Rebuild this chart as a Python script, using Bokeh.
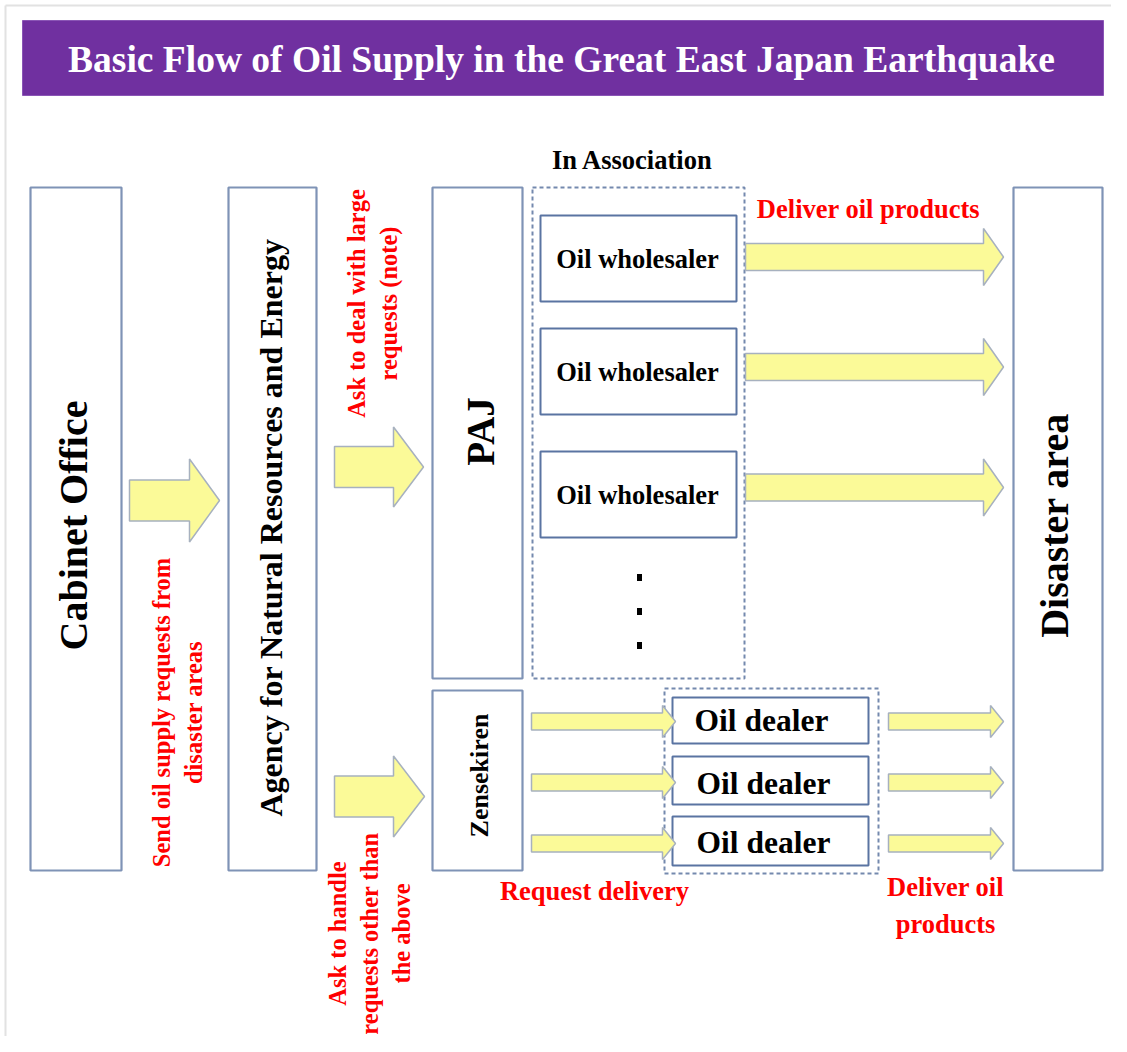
import math
from bokeh.plotting import figure
from bokeh.models import Range1d
from bokeh.core.properties import value
from bokeh.embed import file_html
from bokeh.resources import INLINE

# ---------------- content ----------------
title = "Basic Flow of Oil Supply in the Great East Japan Earthquake"
association_label = "In Association"
column_labels = ["Cabinet Office", "Agency for Natural Resources and Energy",
                 "PAJ", "Zensekiren", "Disaster area"]
wholesaler_labels = ["Oil wholesaler", "Oil wholesaler", "Oil wholesaler"]
dealer_labels = ["Oil dealer", "Oil dealer", "Oil dealer"]
vertical_flow_labels = ["Send oil supply requests from\ndisaster areas",
                        "Ask to deal with large\nrequests (note)",
                        "Ask to handle\nrequests other than\nthe above"]
horizontal_flow_labels = ["Deliver oil products", "Request delivery",
                          "Deliver oil\nproducts"]

# ---------------- layout (page pixels) ----------------
W, H = 1111, 1036
FONT = value("Liberation Serif")
BOX_LINE = "#7F93B6"
INNER_LINE = "#5A74A2"
DASH_LINE = "#7489AE"
ARROW_FILL = "#FBFA98"
ARROW_LINE = "#A7B1BF"
RED = "#FF0000"

p = figure(width=W, height=H, x_range=Range1d(0, W), y_range=Range1d(H, 0),
           output_backend="svg", toolbar_location=None,
           x_axis_type=None, y_axis_type=None, min_border=0)
p.grid.visible = False
p.outline_line_color = None
p.background_fill_color = "white"
p.border_fill_color = "white"

# faint page frame
p.line([5, 5], [1052, 5], line_color="#E2E2E2", line_width=2)
p.line([5, 1127], [5, 5], line_color="#E2E2E2", line_width=2)

# title banner
p.quad(left=[22], right=[1103], top=[20], bottom=[95], fill_color="#7030A0",
       line_color="#8A55B5", line_width=1)
p.text(x=[561], y=[59], text=[title], text_font=FONT, text_font_style="bold",
       text_font_size="37.5px", text_color="white", text_align="center",
       text_baseline="middle")

# main column boxes
col_left = [30, 228, 432, 432, 1013]
col_right = [121, 316, 522, 522, 1102]
col_top = [187, 187, 187, 690, 187]
col_bottom = [870, 870, 678, 870, 870]
p.quad(left=col_left, right=col_right, top=col_top, bottom=col_bottom,
       fill_color="white", line_color=BOX_LINE, line_width=2.2)

col_text_x = [73, 270, 480, 479, 1054]
col_text_y = [525, 527, 431, 775, 525]
col_text_size = ["40px", "32px", "39px", "26px", "40px"]
for lab, tx, ty, fs in zip(column_labels, col_text_x, col_text_y, col_text_size):
    p.text(x=[tx], y=[ty], text=[lab], angle=math.pi / 2, text_font=FONT,
           text_font_style="bold", text_font_size=fs, text_color="black",
           text_align="center", text_baseline="middle")

# dashed association groups
p.quad(left=[532, 664], right=[744, 878], top=[187, 688], bottom=[678, 873],
       fill_alpha=0, line_color=DASH_LINE, line_width=2, line_dash="4 3")
p.text(x=[632], y=[159], text=[association_label], text_font=FONT,
       text_font_style="bold", text_font_size="26.5px", text_color="black",
       text_align="center", text_baseline="middle")

# wholesaler boxes
wh_top = [215, 328, 451]
wh_bottom = [301, 414, 537]
p.quad(left=[540] * 3, right=[736] * 3, top=wh_top, bottom=wh_bottom,
       fill_color="white", line_color=INNER_LINE, line_width=2)
p.text(x=[637] * 3, y=[(a + b) / 2 for a, b in zip(wh_top, wh_bottom)],
       text=wholesaler_labels, text_font=FONT, text_font_style="bold",
       text_font_size="26.5px", text_color="black", text_align="center",
       text_baseline="middle")

# continuation dots
p.rect(x=[639] * 3, y=[577, 611, 645], width=5, height=7, fill_color="black",
       line_color=None)

# dealer boxes
dl_top = [697, 756, 816]
dl_bottom = [743, 804, 865]
p.quad(left=[672] * 3, right=[868] * 3, top=dl_top, bottom=dl_bottom,
       fill_color="white", line_color=INNER_LINE, line_width=2)
p.text(x=[761, 763, 763], y=[720, 783, 842], text=dealer_labels, text_font=FONT,
       text_font_style="bold", text_font_size="31.5px", text_color="black",
       text_align="center", text_baseline="middle")


# arrows
def arrow(x0, xh, xt, yc, sh, hh):
    return ([x0, xh, xh, xt, xh, xh, x0],
            [yc - sh, yc - sh, yc - hh, yc, yc + hh, yc + sh, yc + sh])


arrow_specs = [
    (129, 189, 219, 500, 20.5, 41.5),
    (334, 393, 423, 466.5, 20.5, 40),
    (334, 393, 424, 796, 20.5, 40.5),
    (745, 983, 1003, 256.5, 13.5, 28.5),
    (745, 983, 1003, 366.5, 13.5, 28.5),
    (745, 983, 1003, 487, 13.5, 28.5),
    (531, 662, 675, 721, 8.5, 16),
    (531, 662, 675, 782, 8.5, 16),
    (531, 662, 675, 843, 8.5, 16),
    (888, 990, 1003, 721, 8.5, 16),
    (888, 990, 1003, 782, 8.5, 16),
    (888, 990, 1003, 843, 8.5, 16),
]
axs, ays = [], []
for spec in arrow_specs:
    ax, ay = arrow(*spec)
    axs.append(ax)
    ays.append(ay)
p.patches(xs=axs, ys=ays, fill_color=ARROW_FILL, line_color=ARROW_LINE,
          line_width=1.5)

# red flow labels (vertical)
vx = [177, 372, 369]
vy = [712, 303, 933]
p.text(x=vx, y=vy, text=vertical_flow_labels, angle=math.pi / 2, text_font=FONT,
       text_font_style="bold", text_font_size="24.5px", text_color=RED,
       text_align="center", text_baseline="middle", text_line_height=1.18)

# red flow labels (horizontal)
hx = [868, 594, 945]
hy = [208, 890, 905]
p.text(x=hx, y=hy, text=horizontal_flow_labels, text_font=FONT,
       text_font_style="bold", text_font_size="26.5px", text_color=RED,
       text_align="center", text_baseline="middle", text_line_height=1.22)

open("out.html", "w").write(file_html(p, INLINE))
